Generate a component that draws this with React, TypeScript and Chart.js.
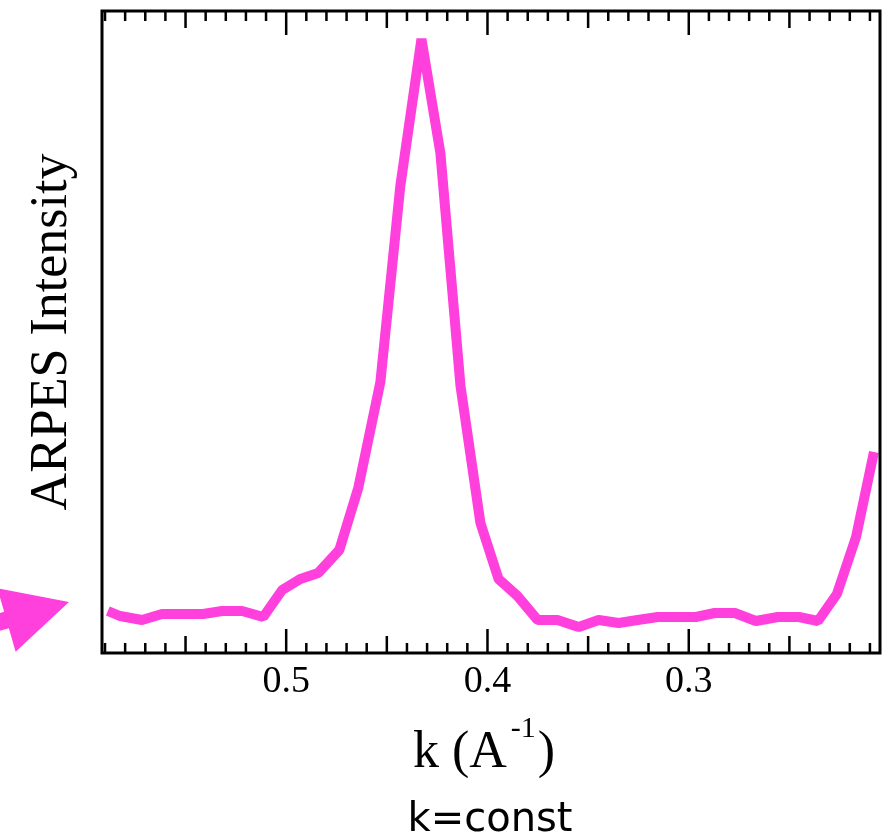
import { useEffect, useRef } from "react";
import { Chart, registerables } from "chart.js";

Chart.register(...registerables);

// ---- data ----
const K_VALUES = [
  0.5886, 0.5826, 0.5716, 0.5617, 0.5512, 0.5413, 0.5318, 0.5219, 0.5114, 0.502,
  0.493, 0.4841, 0.4736, 0.4642, 0.4532, 0.4433, 0.4328, 0.4234, 0.4134, 0.4035,
  0.3945, 0.3851, 0.3751, 0.3652, 0.3547, 0.3448, 0.3348, 0.3254, 0.3154, 0.3055,
  0.2965, 0.2871, 0.2771, 0.2667, 0.2557, 0.2453, 0.2358, 0.2264, 0.2169, 0.208,
];
const INTENSITY = [
  42, 37, 33, 39, 39, 39, 42, 42, 36, 63,
  74, 80, 103, 165, 271, 467, 614, 500, 267, 130,
  74, 57, 33, 33, 26, 33, 30, 33, 36, 36,
  36, 40, 40, 32, 36, 36, 32, 59, 116, 201,
];
const X_TICKS = [0.5, 0.4, 0.3];
const X_MIN = 0.205;
const X_MAX = 0.5915;
const Y_MIN = 0;
const Y_MAX = 642;

const Y_TITLE = "ARPES Intensity";
const X_TITLE_MAIN = "k (A";
const X_TITLE_SUP = "-1";
const X_TITLE_END = ")";
const CAPTION = "k=const";

const LINE_COLOR = "#FF40DC";
const SERIF = '"Liberation Serif", "Times New Roman", serif';

const framePlugin = {
  id: "framePlugin",
  afterDraw(chart: any) {
    const { ctx, chartArea } = chart;
    const { left, right, top, bottom } = chartArea;
    const xs = chart.scales.x;
    ctx.save();
    // frame
    ctx.strokeStyle = "#000";
    ctx.lineWidth = 3;
    ctx.strokeRect(left, top, right - left, bottom - top);
    // inward ticks, top and bottom
    ctx.lineWidth = 2.5;
    const i0 = Math.ceil(X_MIN * 100);
    const i1 = Math.floor(X_MAX * 100);
    for (let i = i0; i <= i1; i++) {
      const px = xs.getPixelForValue(i / 100);
      const len = i % 10 === 0 ? 24 : i % 5 === 0 ? 17 : 10;
      ctx.beginPath();
      ctx.moveTo(px, top);
      ctx.lineTo(px, top + len);
      ctx.moveTo(px, bottom);
      ctx.lineTo(px, bottom - len);
      ctx.stroke();
    }

    // x axis title with superscript
    ctx.fillStyle = "#000";
    ctx.textBaseline = "alphabetic";
    ctx.textAlign = "left";
    const mainFont = `52px ${SERIF}`;
    const supFont = `30px ${SERIF}`;
    ctx.font = mainFont;
    const wMain = ctx.measureText(X_TITLE_MAIN).width;
    const wEnd = ctx.measureText(X_TITLE_END).width;
    ctx.font = supFont;
    const wSup = ctx.measureText(X_TITLE_SUP).width;
    const total = wMain + 4 + wSup + 2 + wEnd;
    const cx = (left + right) / 2 - 7;
    let x = cx - total / 2;
    const baseY = 767;
    ctx.font = mainFont;
    ctx.fillText(X_TITLE_MAIN, x, baseY);
    x += wMain + 4;
    ctx.font = supFont;
    ctx.fillText(X_TITLE_SUP, x, baseY - 30);
    x += wSup + 2;
    ctx.font = mainFont;
    ctx.fillText(X_TITLE_END, x, baseY);

    // caption
    ctx.font = `40px "DejaVu Sans", sans-serif`;
    ctx.textAlign = "center";
    ctx.fillText(CAPTION, cx + 6, 831);

    // pink arrow annotation at the left
    const tip = [69, 602];
    const base = [6.5, 620];
    const dx = tip[0] - base[0];
    const dy = tip[1] - base[1];
    const L = Math.hypot(dx, dy);
    const d = [dx / L, dy / L];
    const n = [-d[1], d[0]];
    const hw = 33;
    const sw = 8.5;
    const tail = 70;
    const pts = [
      tip,
      [base[0] + n[0] * hw, base[1] + n[1] * hw],
      [base[0] + n[0] * sw, base[1] + n[1] * sw],
      [base[0] - d[0] * tail + n[0] * sw, base[1] - d[1] * tail + n[1] * sw],
      [base[0] - d[0] * tail - n[0] * sw, base[1] - d[1] * tail - n[1] * sw],
      [base[0] - n[0] * sw, base[1] - n[1] * sw],
      [base[0] - n[0] * hw, base[1] - n[1] * hw],
    ];
    ctx.fillStyle = LINE_COLOR;
    ctx.beginPath();
    ctx.moveTo(pts[0][0], pts[0][1]);
    for (let i = 1; i < pts.length; i++) ctx.lineTo(pts[i][0], pts[i][1]);
    ctx.closePath();
    ctx.fill();
    ctx.restore();
  },
};

export default function App() {
  const canvasRef = useRef<HTMLCanvasElement | null>(null);

  useEffect(() => {
    const canvas = canvasRef.current;
    if (!canvas) return;
    const data = K_VALUES.map((k, i) => ({ x: k, y: INTENSITY[i] }));
    const chart = new Chart(canvas, {
      type: "line",
      data: {
        datasets: [
          {
            data,
            borderColor: LINE_COLOR,
            backgroundColor: LINE_COLOR,
            borderWidth: 10,
            borderJoinStyle: "bevel",
            borderCapStyle: "butt",
            pointRadius: 0,
            tension: 0,
            fill: false,
          },
        ],
      },
      options: {
        animation: false,
        responsive: false,
        devicePixelRatio: 1,
        layout: { padding: { left: 0, right: 12, top: 11, bottom: 0 } },
        plugins: {
          legend: { display: false },
          tooltip: { enabled: false },
        },
        scales: {
          x: {
            type: "linear",
            position: "bottom",
            reverse: true,
            min: X_MIN,
            max: X_MAX,
            grid: { display: false, drawTicks: false },
            border: { display: false },
            ticks: {
              color: "#000",
              font: { family: SERIF, size: 38 },
              padding: 6,
              autoSkip: false,
              maxRotation: 0,
              callback: (v: any) => Number(v).toFixed(1),
            },
            afterBuildTicks: (s: any) => {
              s.ticks = X_TICKS.map((v) => ({ value: v }));
            },
            afterFit: (s: any) => {
              s.height = 187;
            },
          },
          y: {
            type: "linear",
            min: Y_MIN,
            max: Y_MAX,
            grid: { display: false, drawTicks: false },
            border: { display: false },
            ticks: { display: false },
            title: {
              display: true,
              text: Y_TITLE,
              color: "#000",
              font: { family: SERIF, size: 52 },
              padding: { top: 21, bottom: 0 },
            },
            afterFit: (s: any) => {
              s.width = 102;
            },
          },
        },
      },
      plugins: [framePlugin],
    });
    return () => chart.destroy();
  }, []);

  return (
    <div style={{ position: "absolute", left: 0, top: 0, width: 892, height: 840, background: "#fff" }}>
      <canvas ref={canvasRef} width={892} height={840} style={{ display: "block" }} />
    </div>
  );
}
